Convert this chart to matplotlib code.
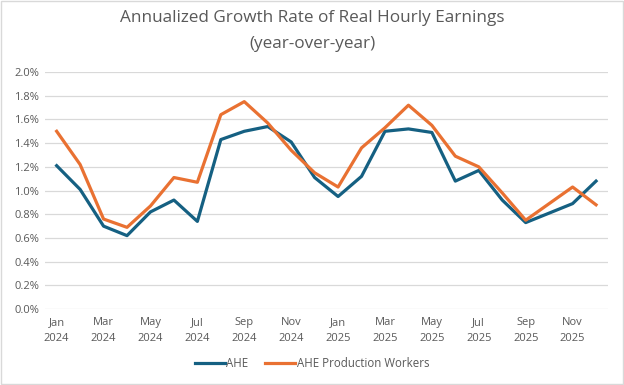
import matplotlib
matplotlib.use("Agg")
import matplotlib.pyplot as plt
from matplotlib.ticker import PercentFormatter, MultipleLocator
from matplotlib.patches import Rectangle

months = ["Jan\n2024", "", "Mar\n2024", "", "May\n2024", "", "Jul\n2024", "",
          "Sep\n2024", "", "Nov\n2024", "", "Jan\n2025", "", "Mar\n2025", "",
          "May\n2025", "", "Jul\n2025", "", "Sep\n2025", "", "Nov\n2025", ""]
ahe = [1.21, 1.01, 0.70, 0.62, 0.82, 0.92, 0.74, 1.43, 1.50, 1.54, 1.41, 1.11,
       0.95, 1.12, 1.50, 1.52, 1.49, 1.08, 1.17, 0.92, 0.73, 0.81, 0.89, 1.08]
ahe_prod = [1.50, 1.22, 0.76, 0.69, 0.87, 1.11, 1.07, 1.64, 1.75, 1.57, 1.34, 1.15,
            1.03, 1.36, 1.53, 1.72, 1.55, 1.29, 1.20, 0.98, 0.75, 0.89, 1.03, 0.88]

plt.rcParams['font.family'] = ['Open Sans', 'DejaVu Sans']
grey = '#595959'

fig = plt.figure(figsize=(6.24, 3.85), dpi=100)
ax = fig.add_axes([0.072, 0.197, 0.902, 0.616])
x = range(len(months))
ax.plot(x, ahe, color='#156082', lw=2.3, label='AHE', solid_joinstyle='round')
ax.plot(x, ahe_prod, color='#E97132', lw=2.3, label='AHE Production Workers',
        solid_joinstyle='round')

ax.set_xlim(-0.5, len(months) - 0.5)
ax.set_ylim(0, 2.0)
ax.yaxis.set_major_locator(MultipleLocator(0.2))
ax.yaxis.set_major_formatter(PercentFormatter(decimals=1))
ax.set_xticks(list(x))
ax.set_xticklabels(months, linespacing=1.55)
ax.tick_params(length=0, labelsize=8, colors=grey, pad=6)
ax.tick_params(axis='y', pad=4)
ax.grid(axis='y', color='#d9d9d9', lw=0.9)
ax.set_axisbelow(True)
for s in ax.spines.values():
    s.set_visible(False)

fig.text(0.5, 0.953, 'Annualized Growth Rate of Real Hourly Earnings',
         ha='center', va='center', fontsize=12.3, color=grey)
fig.text(0.5, 0.885, '(year-over-year)', ha='center', va='center',
         fontsize=12.3, color=grey)

fig.legend(loc='center', bbox_to_anchor=(0.5, 0.057), ncol=2, frameon=False,
           fontsize=8.3, labelcolor=grey, handlelength=2.6, handletextpad=0.1,
           columnspacing=1.5)

fig.patches.append(Rectangle((0.0015, 0.002), 0.997, 0.996, transform=fig.transFigure,
                             fill=False, edgecolor='#d9d9d9', lw=1))
fig.savefig('out.png', dpi=100)
